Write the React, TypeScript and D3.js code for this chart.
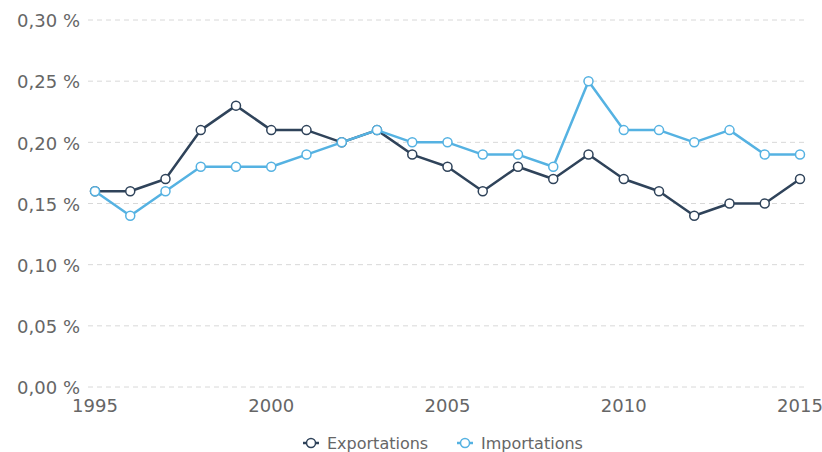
import React from "react";
import * as d3 from "d3";

const years = [1995,1996,1997,1998,1999,2000,2001,2002,2003,2004,2005,2006,2007,2008,2009,2010,2011,2012,2013,2014,2015];
const exportations = [0.16,0.16,0.17,0.21,0.23,0.21,0.21,0.20,0.21,0.19,0.18,0.16,0.18,0.17,0.19,0.17,0.16,0.14,0.15,0.15,0.17];
const importations = [0.16,0.14,0.16,0.18,0.18,0.18,0.19,0.20,0.21,0.20,0.20,0.19,0.19,0.18,0.25,0.21,0.21,0.20,0.21,0.19,0.19];
const yTicks = [0, 0.05, 0.1, 0.15, 0.2, 0.25, 0.3];
const xTicks = [1995, 2000, 2005, 2010, 2015];
const seriesNames = ["Exportations", "Importations"];
const colors = ["#2f435a", "#55b2e2"];

const W = 822, H = 452;
const font = "'DejaVu Sans', Verdana, sans-serif";

export default function App() {
  const x = d3.scaleLinear().domain([1995, 2015]).range([95, 800]);
  const y = d3.scaleLinear().domain([0, 0.3]).range([387, 20]);
  const line = d3.line<number>().x((_, i) => x(years[i])).y((d) => y(d));
  const series = [exportations, importations];
  const fmt = (v: number) => v.toFixed(2).replace(".", ",") + " %";
  const legendX = [303, 457];
  return (
    <svg width={W} height={H} style={{ position: "absolute", left: 0, top: 0, fontFamily: font }}>
      <rect width={W} height={H} fill="#fff" />
      {yTicks.map((t) => (
        <g key={t}>
          <line x1={88} x2={805} y1={y(t)} y2={y(t)} stroke="#d8d8d8" strokeDasharray="5,4" strokeWidth={1} />
          <text x={80} y={y(t)} dy="0.4em" textAnchor="end" fontSize={18} fill="#666">{fmt(t)}</text>
        </g>
      ))}
      {xTicks.map((t) => (
        <text key={t} x={x(t)} y={412} textAnchor="middle" fontSize={18} fill="#666">{t}</text>
      ))}
      {series.map((s, k) => (
        <g key={k}>
          <path d={line(s) || ""} fill="none" stroke={colors[k]} strokeWidth={2.5} strokeLinejoin="round" />
          {s.map((v, i) => (
            <circle key={i} cx={x(years[i])} cy={y(v)} r={4.5} fill="#fff" stroke={colors[k]} strokeWidth={1.5} />
          ))}
        </g>
      ))}
      {seriesNames.map((n, k) => (
        <g key={n} transform={`translate(${legendX[k]},443)`}>
          <line x1={0} x2={16} y1={0} y2={0} stroke={colors[k]} strokeWidth={2.5} />
          <circle cx={8} cy={0} r={4.5} fill="#fff" stroke={colors[k]} strokeWidth={1.5} />
          <text x={24} y={0} dy="0.37em" fontSize={16} fill="#666">{n}</text>
        </g>
      ))}
    </svg>
  );
}
